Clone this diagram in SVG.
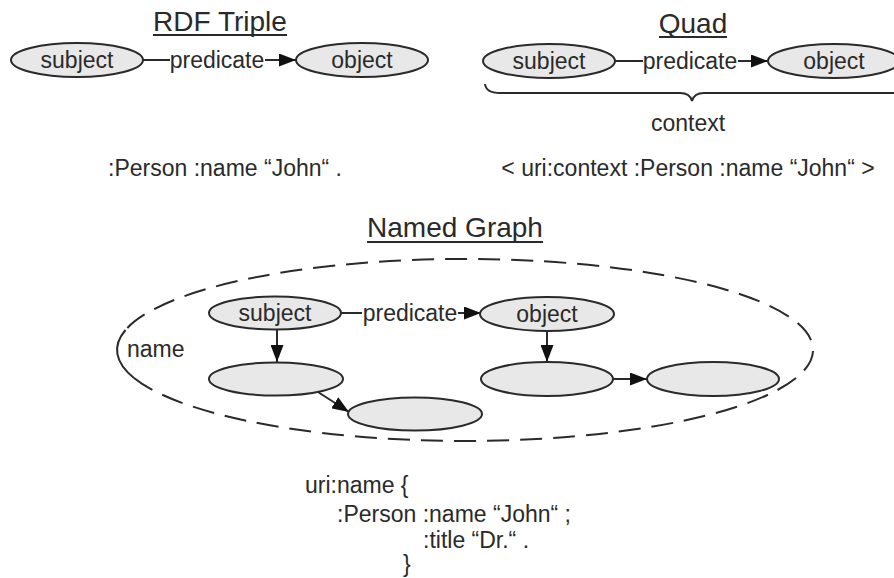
<svg xmlns="http://www.w3.org/2000/svg" width="894" height="578" viewBox="0 0 894 578">
<style>
text{font-family:"Liberation Sans",Arial,sans-serif;fill:#2a2a2a;font-size:23px}
.t{font-size:28px}
.n{fill:#e8e8e8;stroke:#2a2a2a;stroke-width:2}
.e{stroke:#2a2a2a;stroke-width:2;fill:none}
.u{stroke:#2a2a2a;stroke-width:2}
.c{text-anchor:middle}
</style>
<defs>
<marker id="ah" markerUnits="userSpaceOnUse" markerWidth="17" markerHeight="13" refX="17" refY="6.5" orient="auto">
<path d="M0,0 L17,6.5 L0,13 z" fill="#111"/>
</marker>
</defs>
<rect width="894" height="578" fill="#fff"/>

<g id="titles">
<text class="t c" x="220" y="31">RDF Triple</text>
<line class="u" x1="153" y1="35" x2="287" y2="35"/>
<text class="t c" x="693" y="33">Quad</text>
<line class="u" x1="659" y1="37" x2="727" y2="37"/>
<text class="t c" x="455" y="237">Named Graph</text>
<line class="u" x1="367" y1="242" x2="543" y2="242"/>
</g>

<g id="connectors">
<line class="e" x1="143" y1="60" x2="170" y2="60"/>
<line class="e" x1="265" y1="60" x2="296" y2="60" marker-end="url(#ah)"/>
<line class="e" x1="615" y1="61" x2="643" y2="61"/>
<line class="e" x1="738" y1="61" x2="768" y2="61" marker-end="url(#ah)"/>
<line class="e" x1="341" y1="313" x2="362" y2="313"/>
<line class="e" x1="458" y1="313" x2="481" y2="313" marker-end="url(#ah)"/>
<line class="e" x1="277" y1="330" x2="277" y2="362" marker-end="url(#ah)"/>
<line class="e" x1="547" y1="331" x2="547" y2="362" marker-end="url(#ah)"/>
<line class="e" x1="318" y1="392" x2="349" y2="412" marker-end="url(#ah)"/>
<line class="e" x1="613" y1="379" x2="647" y2="379" marker-end="url(#ah)"/>
</g>

<g id="triple">
<g id="t-subject"><ellipse class="n" cx="77" cy="60" rx="66" ry="17"/><text class="c" x="77" y="68">subject</text></g>
<text class="c" x="217" y="68">predicate</text>
<g id="t-object"><ellipse class="n" cx="362" cy="60" rx="66" ry="17"/><text class="c" x="362" y="68">object</text></g>
<text class="c" x="225" y="176">:Person :name “John“ .</text>
</g>

<g id="quad">
<g id="q-subject"><ellipse class="n" cx="549" cy="61" rx="66" ry="17"/><text class="c" x="549" y="69">subject</text></g>
<text class="c" x="690" y="69">predicate</text>
<g id="q-object"><ellipse class="n" cx="834" cy="61" rx="66" ry="17"/><text class="c" x="834" y="69">object</text></g>
<path class="e" d="M485,84 Q486,93 500,93 L680,93 Q690,93 692,101 Q694,93 704,93 L894,93"/>
<text class="c" x="688" y="131">context</text>
<text class="c" x="688" y="176">&lt; uri:context :Person :name “John“ &gt;</text>
</g>

<g id="named-graph">
<path d="M134,378 A348,91 0 1,0 125.5,330" fill="none" stroke="#2a2a2a" stroke-width="2" stroke-dasharray="22 11"/>
<path class="e" d="M125.5,330 A348,91 0 0,0 134,378"/>
<text x="127" y="357">name</text>
<g id="g-subject"><ellipse class="n" cx="275" cy="313" rx="66" ry="16.5"/><text class="c" x="275" y="321">subject</text></g>
<text class="c" x="410" y="321">predicate</text>
<g id="g-object"><ellipse class="n" cx="547" cy="314" rx="67" ry="17"/><text class="c" x="547" y="322">object</text></g>
<g id="g-a"><ellipse class="n" cx="276" cy="379" rx="67" ry="16.5"/></g>
<g id="g-b"><ellipse class="n" cx="415" cy="414" rx="67" ry="16.5"/></g>
<g id="g-c"><ellipse class="n" cx="547" cy="379" rx="66" ry="17"/></g>
<g id="g-d"><ellipse class="n" cx="713" cy="379" rx="66" ry="17"/></g>
</g>

<g id="code">
<text x="305" y="493">uri:name {</text>
<text x="337" y="522">:Person :name “John“ ;</text>
<text x="423" y="548">:title “Dr.“ .</text>
<text x="403" y="572">}</text>
</g>
</svg>
